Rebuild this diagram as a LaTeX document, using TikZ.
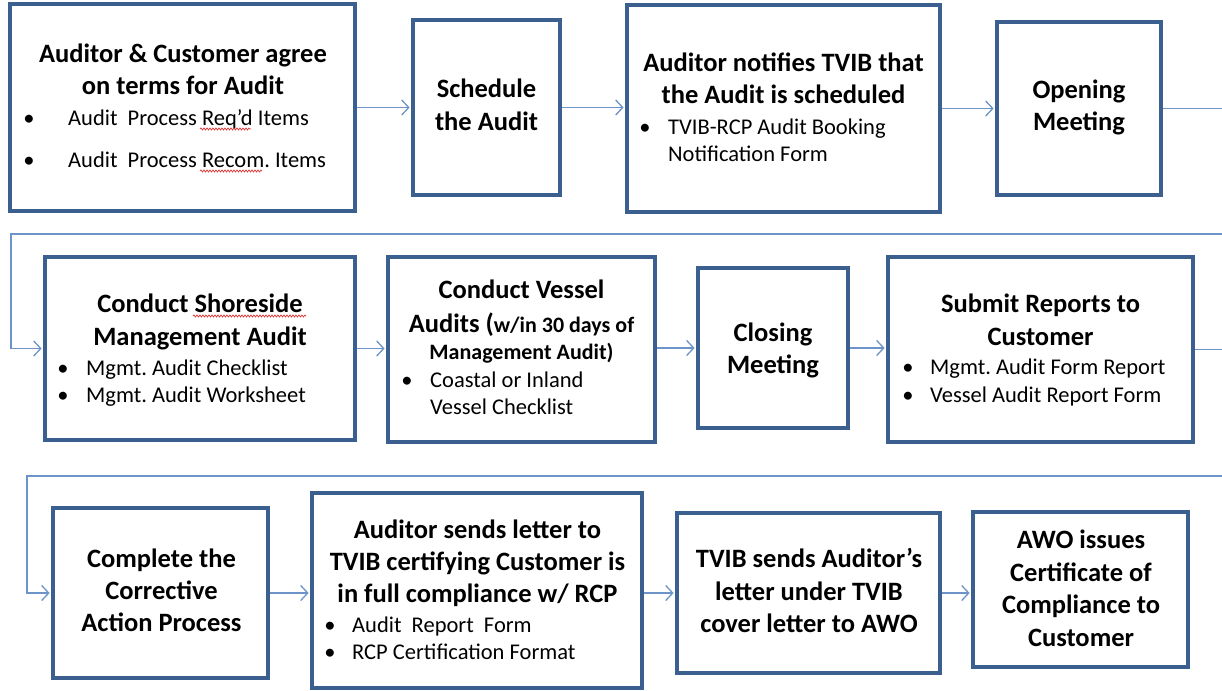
\documentclass[tikz,border=0pt]{standalone}
\usepackage{fontspec}
\setmainfont{Carlito}
\frenchspacing
\usetikzlibrary{arrows.meta,decorations.pathmorphing}
\definecolor{boxblue}{HTML}{3B5F8E}
\definecolor{linkblue}{HTML}{6C94C8}
\definecolor{spellred}{HTML}{E03434}

\begin{document}
\begin{tikzpicture}[x=1pt,y=-1pt,
  stepbox/.style={draw=boxblue, line width=3.8pt, fill=white, rectangle, inner sep=0pt},
  head/.style={anchor=base, inner sep=0pt, font=\fontsize{26.5}{32}\selectfont\bfseries},
  headsmall/.style={anchor=base, inner sep=0pt, font=\fontsize{22}{27}\selectfont\bfseries},
  item/.style={anchor=base west, inner sep=0pt, font=\fontsize{22.5}{27}\selectfont},
  dot/.style={anchor=base, inner sep=0pt, font=\fontsize{22.5}{27}\selectfont},
  flow/.style={draw=linkblue, line width=1.3pt,
    -{Straight Barb[length=7pt,width=15pt,line width=1.3pt]}, shorten >=1.5pt},
  squiggle/.style={draw=spellred, line width=0.7pt, decorate,
    decoration={snake, amplitude=1pt, segment length=3pt}}]
\clip (0,0) rectangle (1222,690);
\fill[white] (0,0) rectangle (1222,690);

% ---------- row 1 ----------
\node[stepbox, minimum width=345pt, minimum height=207pt] (b1) at (182.5,107.5) {};
\node[head] (b1h1) at (183,63) {Auditor \& Customer agree};
\node[head] (b1h2) at (183,95) {on terms for Audit};
\node[dot] (b1d1) at (29,125) {•};
\node[item] (b1i1) at (68,125) {Audit\ \ Process Req’d Items};
\node[dot] (b1d2) at (29,167) {•};
\node[item] (b1i2) at (68,167) {Audit\ \ Process Recom. Items};

\node[stepbox, minimum width=147pt, minimum height=175pt] (b2) at (486.5,107.5) {};
\node[head] (b2h1) at (486.5,98) {Schedule};
\node[head] (b2h2) at (486.5,131) {the Audit};

\node[stepbox, minimum width=313pt, minimum height=207pt] (b3) at (783.5,108.5) {};
\node[head] (b3h1) at (783.5,72) {Auditor notifies TVIB that};
\node[head] (b3h2) at (783.5,104) {the Audit is scheduled};
\node[dot] (b3d1) at (645,134) {•};
\node[item] (b3i1) at (668,134) {TVIB-RCP Audit Booking};
\node[item] (b3i2) at (668,161) {Notification Form};

\node[stepbox, minimum width=164pt, minimum height=173pt] (b4) at (1079,108.5) {};
\node[head] (b4h1) at (1079,99) {Opening};
\node[head] (b4h2) at (1079,131) {Meeting};

% ---------- row 2 ----------
\node[stepbox, minimum width=310pt, minimum height=183pt] (b5) at (200,348.5) {};
\node[head] (b5h1) at (200,312) {Conduct Shoreside};
\node[head] (b5h2) at (200,345) {Management Audit};
\node[dot] (b5d1) at (63,375) {•};
\node[item] (b5i1) at (86,375) {Mgmt. Audit Checklist};
\node[dot] (b5d2) at (63,402) {•};
\node[item] (b5i2) at (86,402) {Mgmt. Audit Worksheet};

\node[stepbox, minimum width=267pt, minimum height=185pt] (b6) at (521.5,349.5) {};
\node[head] (b6h1) at (521.5,298) {Conduct Vessel};
\node[head] (b6h2) at (521.5,332) {Audits (\fontsize{22}{27}\selectfont w/in 30 days of};
\node[headsmall] (b6h3) at (521.5,359) {Management Audit)};
\node[dot] (b6d1) at (407,387) {•};
\node[item] (b6i1) at (430,387) {Coastal or Inland};
\node[item] (b6i2) at (430,414) {Vessel Checklist};

\node[stepbox, minimum width=150pt, minimum height=160pt] (b7) at (773,348) {};
\node[head] (b7h1) at (773,341) {Closing};
\node[head] (b7h2) at (773,373) {Meeting};

\node[stepbox, minimum width=305pt, minimum height=185pt] (b8) at (1040.5,349.5) {};
\node[head] (b8h1) at (1040.5,312) {Submit Reports to};
\node[head] (b8h2) at (1040.5,345) {Customer};
\node[dot] (b8d1) at (908,374) {•};
\node[item] (b8i1) at (930,374) {Mgmt. Audit Form Report};
\node[dot] (b8d2) at (908,402) {•};
\node[item] (b8i2) at (930,402) {Vessel Audit Report Form};

% ---------- row 3 ----------
\node[stepbox, minimum width=215pt, minimum height=170pt] (b9) at (160.5,593) {};
\node[head] (b9h1) at (161.5,567) {Complete the};
\node[head] (b9h2) at (161.5,599) {Corrective};
\node[head] (b9h3) at (161.5,631) {Action Process};

\node[stepbox, minimum width=330pt, minimum height=195pt] (b10) at (477,590.5) {};
\node[head] (b10h1) at (477.5,538) {Auditor sends letter to};
\node[head] (b10h2) at (477.5,570) {TVIB certifying Customer is};
\node[head] (b10h3) at (477.5,602) {in full compliance w/ RCP};
\node[dot] (b10d1) at (330,632) {•};
\node[item] (b10i1) at (352,632) {Audit\ \ Report\ \ Form};
\node[dot] (b10d2) at (330,659) {•};
\node[item] (b10i2) at (352,659) {RCP Certification Format};

\node[stepbox, minimum width=263pt, minimum height=160pt] (b11) at (808.5,593) {};
\node[head] (b11h1) at (809,567) {TVIB sends Auditor’s};
\node[head] (b11h2) at (809,600) {letter under TVIB};
\node[head] (b11h3) at (809,632) {cover letter to AWO};

\node[stepbox, minimum width=215pt, minimum height=155pt] (b12) at (1080.5,589.5) {};
\node[head] (b12h1) at (1081,548) {AWO issues};
\node[head] (b12h2) at (1081,581) {Certificate of};
\node[head] (b12h3) at (1081,613) {Compliance to};
\node[head] (b12h4) at (1081,646) {Customer};

% ---------- spelling marks ----------
\draw[squiggle] (200,129) -- (251,129);
\draw[squiggle] (200,171) -- (262,171);
\draw[squiggle] (193,316) -- (306,316);

% ---------- connectors ----------
\draw[flow] (b1.east) -- (b1.east -| b2.west);
\draw[flow] (b2.east) -- (b2.east -| b3.west);
\draw[flow] (b3.east) -- (b3.east -| b4.west);
\draw[flow] (b4.east) -- ++(200,0) |- (11,234) |- (b5.west);

\draw[flow] (b5.east) -- (b5.east -| b6.west);
\draw[flow] (b6.east |- b7.west) -- (b7.west);
\draw[flow] (b7.east) -- (b7.east -| b8.west);
\draw[flow] (b8.east) -- ++(200,0) |- (27,476) |- (b9.west);

\draw[flow] (b9.east) -- (b9.east -| b10.west);
\draw[flow] (b10.east |- b11.west) -- (b11.west);
\draw[flow] (b11.east) -- (b11.east -| b12.west);
\end{tikzpicture}
\end{document}
